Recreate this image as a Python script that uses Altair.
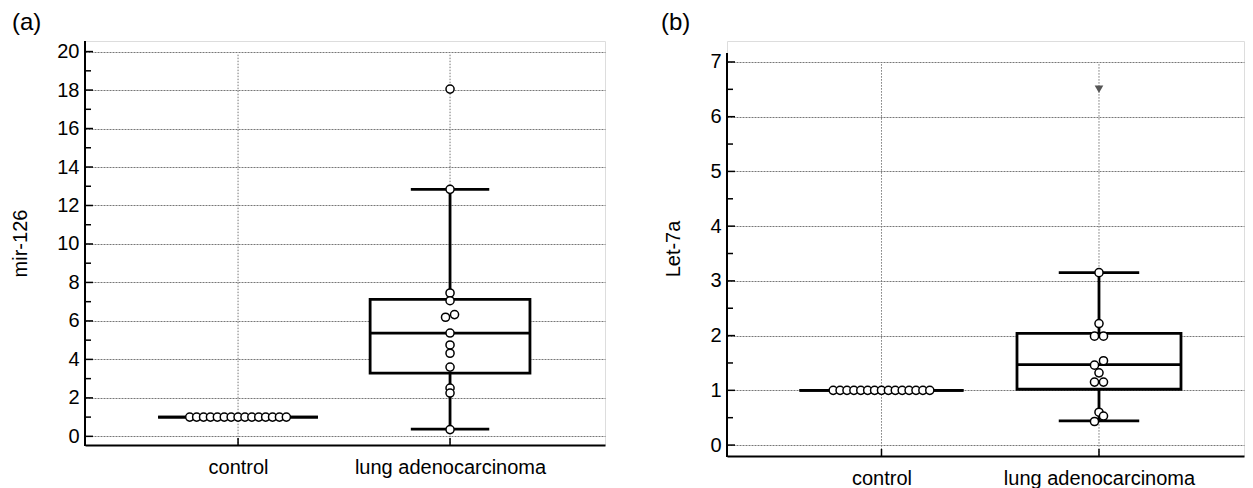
import altair as alt
import pandas as pd

FONT = "Liberation Sans"

# ---------------- data ----------------
CATS = ["control", "lung adenocarcinoma"]
CAT_POS = [1, 2]

# panel (a): mir-126
A_CONTROL = [1.0, 1.0, 1.0, 1.0, 1.0, 1.0, 1.0, 1.0, 1.0, 1.0, 1.0, 1.0, 1.0, 1.0, 1.0]
A_CONTROL_DODGE = [-7, -6, -5, -4, -3, -2, -1, 0, 1, 2, 3, 4, 5, 6, 7]
A_LUNG = [18.05, 12.84, 7.45, 7.05, 6.19, 6.33, 5.37, 4.75, 4.32, 3.60, 2.51, 2.25, 0.35]
A_LUNG_DODGE = [0, 0, 0, 0, -1, 1, 0, 0, 0, 0, 0, 0, 0]
A_Q1 = [1.0, 3.29]
A_MED = [1.0, 5.37]
A_Q3 = [1.0, 7.12]
A_LO = [1.0, 0.38]
A_HI = [1.0, 12.84]
A_TICKS = [0, 2, 4, 6, 8, 10, 12, 14, 16, 18, 20]
A_MINOR = [1, 3, 5, 7, 9, 11, 13, 15, 17, 19]

# panel (b): Let-7a
B_CONTROL = [1.0, 1.0, 1.0, 1.0, 1.0, 1.0, 1.0, 1.0, 1.0, 1.0, 1.0, 1.0, 1.0, 1.0, 1.0]
B_CONTROL_DODGE = [-7, -6, -5, -4, -3, -2, -1, 0, 1, 2, 3, 4, 5, 6, 7]
B_LUNG = [3.15, 2.22, 1.99, 1.99, 1.54, 1.46, 1.32, 1.15, 1.15, 0.60, 0.53, 0.43]
B_LUNG_DODGE = [0, 0, -1, 1, 1, -1, 0, -1, 1, 0, 1, -1]
B_Q1 = [1.0, 1.02]
B_MED = [1.0, 1.47]
B_Q3 = [1.0, 2.04]
B_LO = [1.0, 0.44]
B_HI = [1.0, 3.15]
B_MARKER = [6.5]
B_TICKS = [0, 1, 2, 3, 4, 5, 6, 7]
B_MINOR = [0.5, 1.5, 2.5, 3.5, 4.5, 5.5, 6.5]

# ---------------- style constants ----------------
BOX_HALF = 0.377
CAP_HALF = 0.185
DODGE_PX = 4.5
CONTROL_STEP_PX = 6.9
GRID_COLOR = "#777777"
LINE_W = 2.8

LABEL_EXPR = "datum.value == 1 ? '%s' : '%s'" % (CATS[0], CATS[1])


def panel(tag, tag_dx, ytitle, control, control_dodge, lung, lung_dodge,
          q1, med, q3, lo, hi, ticks, minor, xdom, ydom, W, H, vtop, axis_top_px,
          marker=None):
    ppu = W / (xdom[1] - xdom[0])
    xs = alt.Scale(domain=xdom, nice=False, zero=False)
    ys = alt.Scale(domain=ydom, nice=False, zero=False)
    xaxis = alt.Axis(values=CAT_POS, labelExpr=LABEL_EXPR, grid=False, ticks=False,
                     domain=True, domainColor="black", domainWidth=2,
                     labelPadding=12, labelFontSize=20, labelColor="black",
                     labelFont=FONT, labelLimit=500, title=None)
    yaxis = alt.Axis(values=ticks, grid=True, gridColor=GRID_COLOR, gridDash=[2, 1],
                     gridWidth=1, domain=False, ticks=False, labelPadding=6,
                     labelFontSize=20, labelColor="black", labelFont=FONT,
                     title=ytitle, titleFontSize=20, titleFont=FONT,
                     titleFontWeight="normal", titleColor="black", titlePadding=26)

    def X(f):
        return alt.X(f, type="quantitative", scale=xs, axis=xaxis)

    def Y(f):
        return alt.Y(f, type="quantitative", scale=ys, axis=yaxis)

    stats = pd.DataFrame({"pos": CAT_POS, "q1": q1, "med": med, "q3": q3,
                          "lo": lo, "hi": hi, "top": [vtop, vtop],
                          "bottom": [ydom[0], ydom[0]]})
    stats["bl"] = stats["pos"] - BOX_HALF
    stats["br"] = stats["pos"] + BOX_HALF

    whisk = pd.concat([
        pd.DataFrame({"pos": CAT_POS, "a": q3, "b": hi}),
        pd.DataFrame({"pos": CAT_POS, "a": q1, "b": lo}),
    ])
    whisk = whisk[whisk["a"] != whisk["b"]]
    caps = pd.concat([
        pd.DataFrame({"pos": CAT_POS, "v": hi, "q": q3}),
        pd.DataFrame({"pos": CAT_POS, "v": lo, "q": q1}),
    ])
    caps = caps[caps["v"] != caps["q"]].copy()
    caps["cl"] = caps["pos"] - CAP_HALF
    caps["cr"] = caps["pos"] + CAP_HALF

    pts = pd.concat([
        pd.DataFrame({"x": [CAT_POS[0] + d * CONTROL_STEP_PX / ppu for d in control_dodge],
                      "y": control}),
        pd.DataFrame({"x": [CAT_POS[1] + d * DODGE_PX / ppu for d in lung_dodge],
                      "y": lung}),
    ])

    vgrid = alt.Chart(stats).mark_rule(color=GRID_COLOR, strokeWidth=1,
                                       strokeDash=[1.5, 1.5]).encode(
        x=X("pos"), y=Y("top"), y2="bottom")
    wl = alt.Chart(whisk).mark_rule(color="black", strokeWidth=LINE_W).encode(
        x=X("pos"), y=Y("a"), y2="b")
    box = alt.Chart(stats).mark_rect(fill="white", stroke="black",
                                     strokeWidth=LINE_W).encode(
        x=X("bl"), x2="br", y=Y("q1"), y2="q3")
    medl = alt.Chart(stats).mark_rule(color="black", strokeWidth=LINE_W).encode(
        x=X("bl"), x2="br", y=Y("med"))
    capl = alt.Chart(caps).mark_rule(color="black", strokeWidth=LINE_W).encode(
        x=X("cl"), x2="cr", y=Y("v"))
    dots = alt.Chart(pts).mark_point(shape="circle", filled=True, fill="white",
                                     stroke="black", strokeWidth=1.5, size=66,
                                     opacity=1).encode(x=X("x"), y=Y("y"))
    major = alt.Chart(pd.DataFrame({"v": ticks})).mark_rule(
        color="black", strokeWidth=1.5).encode(
        x=alt.value(0), x2=alt.value(8), y=Y("v"))
    minr = alt.Chart(pd.DataFrame({"v": minor})).mark_rule(
        color="black", strokeWidth=1.5).encode(
        x=alt.value(0), x2=alt.value(6), y=Y("v"))
    xt = alt.Chart(pd.DataFrame({"pos": CAT_POS})).mark_rule(
        color="black", strokeWidth=1.5).encode(
        x=X("pos"), y=alt.value(H), y2=alt.value(H - 7))
    ydomain = alt.Chart(pd.DataFrame({"a": [0]})).mark_rule(
        color="black", strokeWidth=2).encode(
        x=alt.value(0), y=alt.value(axis_top_px), y2=alt.value(H + 1))
    tag_text = alt.Chart(pd.DataFrame({"t": [tag]})).mark_text(
        align="left", baseline="alphabetic", fontSize=24, font=FONT,
        color="black").encode(
        text="t:N", x=alt.value(tag_dx), y=alt.value(-11))

    layers = [vgrid, wl, box, medl, capl, dots, major, minr, xt, ydomain, tag_text]
    if marker is not None:
        mk = alt.Chart(pd.DataFrame({"x": [CAT_POS[1]], "y": marker})).mark_point(
            shape="triangle-down", filled=True, color="#555555", size=75,
            opacity=1).encode(x=X("x"), y=Y("y"))
        layers.append(mk)

    return alt.layer(*layers).properties(width=W, height=H)


pa = panel("(a)", -73, "mir-126", A_CONTROL, A_CONTROL_DODGE, A_LUNG, A_LUNG_DODGE,
           A_Q1, A_MED, A_Q3, A_LO, A_HI, A_TICKS, A_MINOR,
           xdom=[0.278, 2.731], ydom=[-0.45, 20.55], W=520, H=404,
           vtop=19.84, axis_top_px=0)

pb = panel("(b)", -66, "Let-7a", B_CONTROL, B_CONTROL_DODGE, B_LUNG, B_LUNG_DODGE,
           B_Q1, B_MED, B_Q3, B_LO, B_HI, B_TICKS, B_MINOR,
           xdom=[0.2897, 2.6667], ydom=[-0.2, 7.383], W=517, H=415,
           vtop=6.96, axis_top_px=12, marker=B_MARKER)

chart = alt.hconcat(pa, pb, spacing=122, bounds="flush").properties(
    padding={"left": 2, "top": 2, "right": 0, "bottom": 0}
).configure_view(stroke=None).configure(font=FONT)

chart.save("out.html", embed_options={"renderer": "svg", "actions": False})
